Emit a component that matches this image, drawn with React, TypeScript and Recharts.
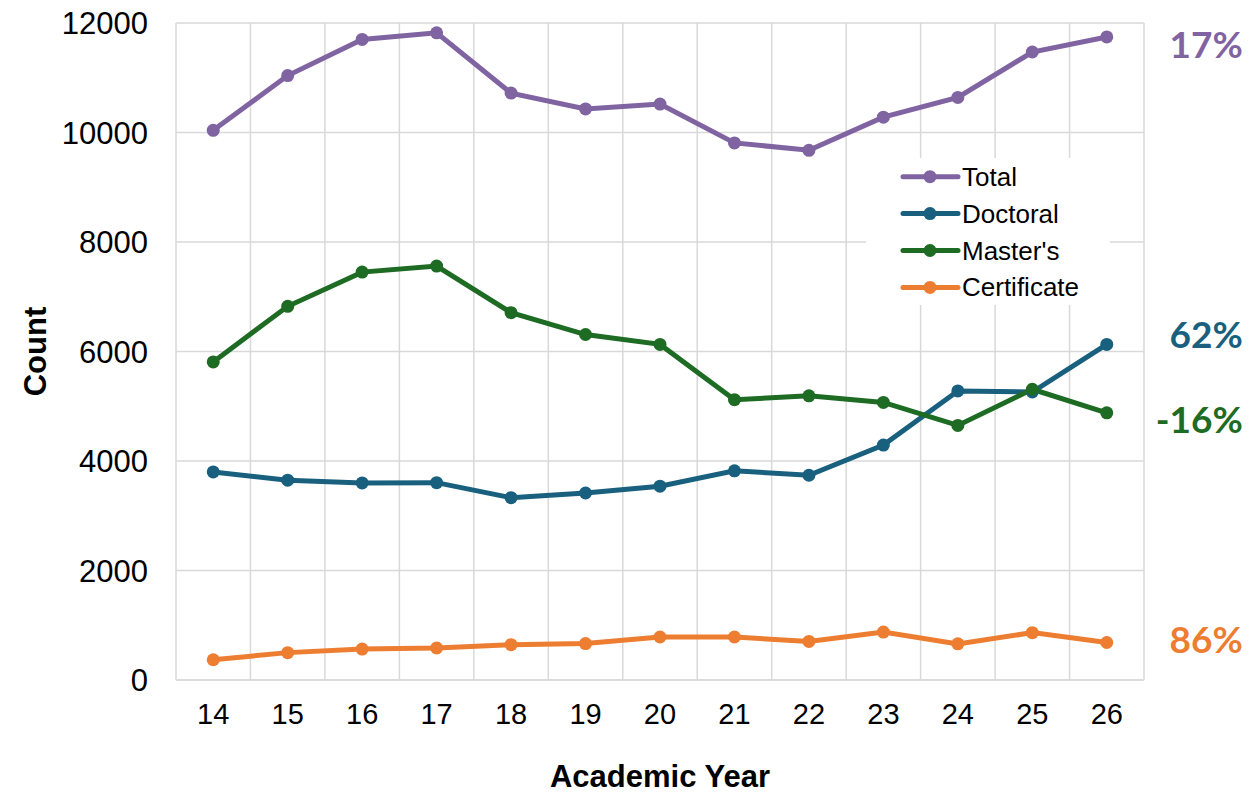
import { LineChart, Line, XAxis, YAxis, CartesianGrid, ReferenceLine, Legend, LabelList } from "recharts";

const years = [14, 15, 16, 17, 18, 19, 20, 21, 22, 23, 24, 25, 26];
const total = [10040, 11040, 11700, 11820, 10720, 10430, 10520, 9810, 9675, 10280, 10640, 11470, 11745];
const doctoral = [3800, 3650, 3600, 3605, 3330, 3415, 3540, 3820, 3740, 4290, 5280, 5260, 6130];
const masters = [5810, 6825, 7450, 7560, 6710, 6310, 6130, 5120, 5190, 5070, 4650, 5310, 4880];
const certificate = [370, 500, 565, 585, 645, 665, 785, 785, 705, 875, 660, 865, 685];
const changeLabels = ["17%", "62%", "-16%", "86%"];
const yTicks = [0, 2000, 4000, 6000, 8000, 10000, 12000];

const data = years.map((y, i) => ({
  year: y,
  total: total[i],
  doctoral: doctoral[i],
  masters: masters[i],
  certificate: certificate[i],
}));

const series = [
  { key: "total", name: "Total", color: "#8064a2", dy: 7 },
  { key: "doctoral", name: "Doctoral", color: "#19607f", dy: -11 },
  { key: "masters", name: "Master's", color: "#1e6b23", dy: 6 },
  { key: "certificate", name: "Certificate", color: "#ed7d31", dy: -4 },
];

// cell borders between the year columns, like the spreadsheet chart
const borders = years.map(y => y + 0.5);

const GRID = "#d9d9d9";

function LegendBox() {
  return (
    <svg width={244} height={147} style={{ background: "#fff", display: "block" }}>
      {series.map((s, i) => {
        const cy = 18.7 + i * 36.9;
        return (
          <g key={s.key}>
            <line x1={37} x2={92} y1={cy} y2={cy} stroke={s.color} strokeWidth={5} strokeLinecap="round" />
            <circle cx={64} cy={cy} r={6.5} fill={s.color} />
            <text x={96} y={cy} dominantBaseline="central" fontFamily="Liberation Sans, Arial" fontSize={26} fill="#000">
              {s.name}
            </text>
          </g>
        );
      })}
    </svg>
  );
}

export default function App() {
  return (
    <div style={{ position: "absolute", left: 0, top: 0, width: 1249, height: 796, background: "#fff" }}>
      <LineChart width={1249} height={796} data={data} margin={{ top: 23, right: 105, bottom: 0, left: 0 }}>
        <CartesianGrid vertical={false} stroke={GRID} strokeWidth={1.5} />
        {borders.map(b => (
          <ReferenceLine key={b} x={b} stroke={GRID} strokeWidth={1.5} />
        ))}
        <XAxis
          dataKey="year"
          type="number"
          domain={[13.5, 26.5]}
          ticks={years}
          height={116}
          axisLine={{ stroke: GRID, strokeWidth: 1.5 }}
          tickLine={false}
          tickSize={0}
          tickMargin={23}
          tick={{ fill: "#000", fontSize: 29, fontFamily: "Liberation Sans, Arial" }}
          label={{ value: "Academic Year", position: "insideBottom", offset: 9, fill: "#000", fontSize: 31, fontWeight: "bold", fontFamily: "Liberation Sans, Arial" }}
        />
        <YAxis
          domain={[0, 12000]}
          ticks={yTicks}
          width={176}
          axisLine={{ stroke: GRID, strokeWidth: 1.5 }}
          tickLine={false}
          tickSize={0}
          tickMargin={28}
          tick={{ fill: "#000", fontSize: 31, fontFamily: "Liberation Sans, Arial" }}
          label={{ value: "Count", angle: -90, position: "center", dx: -53, fill: "#000", fontSize: 31, fontWeight: "bold", fontFamily: "Liberation Sans, Arial" }}
        />
        <Legend
          layout="vertical"
          align="center"
          verticalAlign="middle"
          wrapperStyle={{ left: 866, top: 158, width: 244, height: 147 }}
          content={() => <LegendBox />}
        />
        {series.map((s, si) => (
          <Line
            key={s.key}
            dataKey={s.key}
            name={s.name}
            type="linear"
            stroke={s.color}
            strokeWidth={5}
            dot={{ r: 6.5, fill: s.color, stroke: "none" }}
            activeDot={false}
            isAnimationActive={false}
          >
            <LabelList
              dataKey={s.key}
              content={(p: any) =>
                p.index === years.length - 1 ? (
                  <text
                    x={p.x + 136}
                    y={p.y + s.dy}
                    textAnchor="end"
                    dominantBaseline="central"
                    fontFamily="Lato, Open Sans, sans-serif"
                    fontWeight="bold"
                    fontSize={37}
                    fill={s.color}
                  >
                    {changeLabels[si]}
                  </text>
                ) : null
              }
            />
          </Line>
        ))}
      </LineChart>
    </div>
  );
}
